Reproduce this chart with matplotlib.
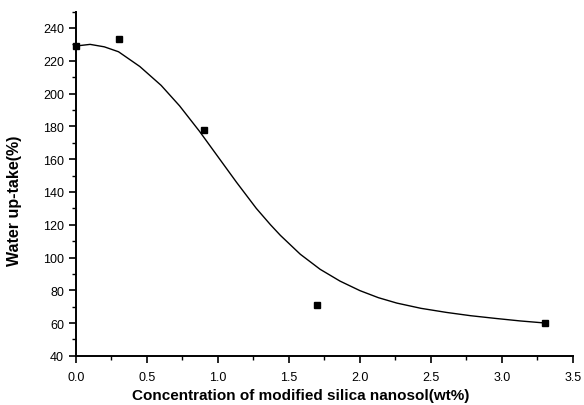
import matplotlib.pyplot as plt
from matplotlib.ticker import MultipleLocator

# measured points
conc = [0.0, 0.3, 0.9, 1.7, 3.3]
uptake = [229, 233, 178, 71, 60]

# fitted curve
curve_x = [0, 0.1, 0.2, 0.3, 0.45, 0.6, 0.73, 0.87, 1.0, 1.13, 1.27, 1.37,
           1.44, 1.58, 1.72, 1.86, 2.0, 2.13, 2.26, 2.43, 2.61, 2.78, 2.96,
           3.13, 3.31]
curve_y = [229, 230, 228.5, 225.5, 216.5, 205, 192.5, 177, 161.5, 146, 130,
           120, 113.5, 102, 92.8, 85.6, 79.8, 75.5, 72.2, 69, 66.5, 64.5, 62.8,
           61.3, 60]

plt.rcParams['font.family'] = ['Liberation Sans', 'DejaVu Sans']

fig = plt.figure(figsize=(5.84, 4.06), dpi=100)
ax = fig.add_axes([0.130, 0.121, 0.851, 0.848])

ax.plot(curve_x, curve_y, color='black', lw=1.0)
ax.plot(conc, uptake, 's', color='black', ms=5, clip_on=False)

ax.set_xlim(0, 3.5)
ax.set_ylim(40, 250)
ax.xaxis.set_major_locator(MultipleLocator(0.5))
ax.xaxis.set_minor_locator(MultipleLocator(0.25))
ax.yaxis.set_minor_locator(MultipleLocator(10))
ax.set_yticks(range(40, 241, 20))

ax.spines['top'].set_visible(False)
ax.spines['right'].set_visible(False)
ax.spines['left'].set_linewidth(1.4)
ax.spines['bottom'].set_linewidth(1.4)
ax.tick_params(which='major', direction='out', length=5, width=1.2, labelsize=9)
ax.tick_params(axis='x', which='major', pad=6)
ax.tick_params(which='minor', direction='out', length=3, width=1.0)

ax.set_xlabel('Concentration of modified silica nanosol(wt%)', fontsize=11,
              fontweight='bold')
ax.set_ylabel('Water up-take(%)', fontsize=11.5, fontweight='bold')
ax.xaxis.set_label_coords(0.453, -0.093)
ax.yaxis.set_label_coords(-0.109, 0.453)

fig.savefig('out.png', dpi=100)
